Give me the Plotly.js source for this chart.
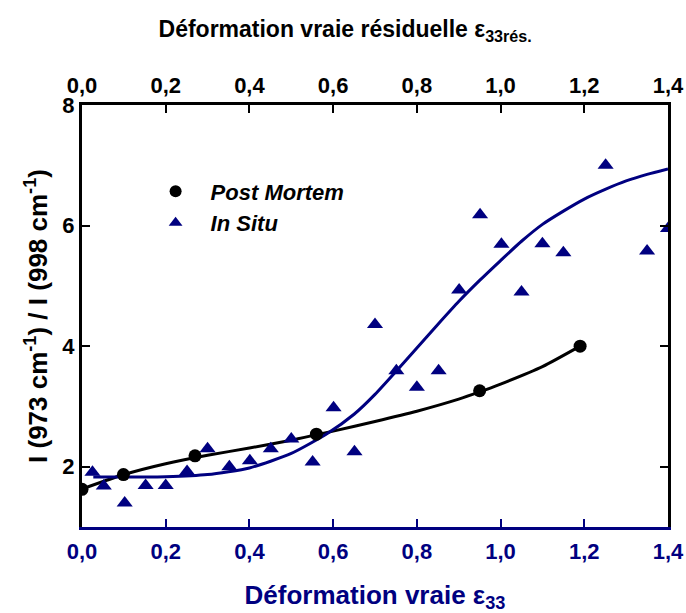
<!DOCTYPE html>
<html>
<head>
<meta charset="utf-8">
<script src="https://cdn.plot.ly/plotly-3.0.1.min.js"></script>
<style>html,body{margin:0;padding:0;background:#fff;}#chart{width:686px;height:613px;}</style>
</head>
<body>
<div id="chart"></div>
<script>
// Post Mortem measurements
const pmX = [0.0, 0.099, 0.27, 0.56, 0.95, 1.19];
const pmY = [1.625, 1.87, 2.18, 2.54, 3.26, 4.0];
// Post Mortem fitted curve
const pmFitX = [0.0, 0.1, 0.2, 0.3, 0.4, 0.5, 0.56, 0.6, 0.7, 0.8, 0.9, 0.95, 1.0, 1.1, 1.19];
const pmFitY = [1.63, 1.87, 2.05, 2.19, 2.31, 2.44, 2.53, 2.59, 2.75, 2.92, 3.12, 3.24, 3.37, 3.66, 4.0];
// In Situ measurements
const isX = [0.025, 0.052, 0.102, 0.152, 0.20, 0.251, 0.30, 0.352, 0.401, 0.451, 0.50, 0.551, 0.601, 0.651, 0.70, 0.751, 0.80, 0.852, 0.901, 0.951, 1.002, 1.05, 1.10, 1.15, 1.251, 1.35, 1.40];
const isY = [1.91, 1.68, 1.40, 1.69, 1.69, 1.92, 2.30, 2.00, 2.10, 2.30, 2.46, 2.08, 2.98, 2.25, 4.36, 3.59, 3.32, 3.59, 4.93, 6.18, 5.69, 4.90, 5.70, 5.55, 7.00, 5.58, 5.95];
// In Situ fitted curve
const isFitX = [0.027, 0.1, 0.2, 0.3, 0.4, 0.5, 0.586, 0.65, 0.7, 0.75, 0.8, 0.85, 0.9, 0.95, 1.0, 1.05, 1.1, 1.15, 1.2, 1.25, 1.3, 1.35, 1.4];
const isFitY = [1.83, 1.83, 1.835, 1.87, 1.98, 2.22, 2.55, 2.87, 3.2, 3.58, 3.97, 4.36, 4.74, 5.09, 5.42, 5.74, 6.02, 6.24, 6.44, 6.6, 6.74, 6.85, 6.94];

const xTicks = [0, 0.2, 0.4, 0.6, 0.8, 1.0, 1.2, 1.4];
const xTickText = ['0,0', '0,2', '0,4', '0,6', '0,8', '1,0', '1,2', '1,4'];
const yTicks = [2, 4, 6, 8];

const NAVY = '#000080';
const FONT = 'Liberation Sans, Arial, sans-serif';

const traces = [
  {x: pmFitX, y: pmFitY, mode: 'lines', line: {color: '#000', width: 3, shape: 'spline', smoothing: 0.6}, showlegend: false, hoverinfo: 'skip'},
  {x: isFitX, y: isFitY, mode: 'lines', line: {color: NAVY, width: 3, shape: 'spline', smoothing: 0.6}, showlegend: false, hoverinfo: 'skip'},
  {x: pmX, y: pmY, mode: 'markers', name: 'Post Mortem', marker: {color: '#000', size: 13, symbol: 'circle'}},
  {x: isX, y: isY, mode: 'markers', name: 'In Situ', marker: {color: NAVY, size: 14, symbol: 'triangle-up'}},
  {x: [0], y: [0], xaxis: 'x2', mode: 'markers', marker: {opacity: 0}, showlegend: false, hoverinfo: 'skip'}
];

const layout = {
  width: 686, height: 613,
  margin: {l: 82, r: 18, t: 105, b: 86},
  paper_bgcolor: '#fff', plot_bgcolor: '#fff',
  font: {family: FONT, size: 22, color: '#000', weight: 'bold'},
  title: {text: 'Déformation vraie résiduelle ε<sub>33rés.</sub>',
          font: {family: FONT, size: 23, color: '#000', weight: 'bold'},
          xref: 'paper', x: 0.449, xanchor: 'center', yref: 'container', y: 0.952, yanchor: 'middle'},
  showlegend: true,
  legend: {x: 0.1, y: 0.845, xanchor: 'left', yanchor: 'top', bgcolor: 'rgba(0,0,0,0)',
           font: {family: FONT, size: 22, weight: 'bold', style: 'italic', color: '#000'},
           itemsizing: 'constant', itemwidth: 60, tracegroupgap: 0},
  xaxis: {
    range: [0, 1.4], tickvals: xTicks, ticktext: xTickText,
    ticks: 'inside', ticklen: 8, tickwidth: 2, tickcolor: NAVY,
    showline: true, linecolor: NAVY, linewidth: 3, showgrid: false, zeroline: false,
    tickfont: {family: FONT, size: 22, color: NAVY, weight: 'bold'}, ticklabelstandoff: 3,
    title: {text: 'Déformation vraie ε<sub>33</sub>', font: {family: FONT, size: 26, color: NAVY, weight: 'bold'}, standoff: 26},
    automargin: false
  },
  xaxis2: {
    overlaying: 'x', side: 'top', anchor: 'y',
    range: [0, 1.4], tickvals: xTicks, ticktext: xTickText,
    ticks: 'inside', ticklen: 8, tickwidth: 2, tickcolor: '#000',
    showline: true, linecolor: '#000', linewidth: 3, showgrid: false, zeroline: false,
    tickfont: {family: FONT, size: 22, color: '#000', weight: 'bold'},
    automargin: false
  },
  yaxis: {
    range: [1, 8], tickvals: yTicks,
    ticks: 'inside', ticklen: 8, tickwidth: 2, tickcolor: '#000', mirror: 'ticks',
    showline: true, linecolor: '#000', linewidth: 3, showgrid: false, zeroline: false,
    tickfont: {family: FONT, size: 22, color: '#000', weight: 'bold'},
    title: {text: 'I (973 cm<sup>-1</sup>) / I (998 cm<sup>-1</sup>)', font: {family: FONT, size: 26, color: '#000', weight: 'bold'}, standoff: 8},
    automargin: false
  }
};

Plotly.newPlot('chart', traces, layout, {displayModeBar: false, staticPlot: true});
</script>
</body>
</html>
